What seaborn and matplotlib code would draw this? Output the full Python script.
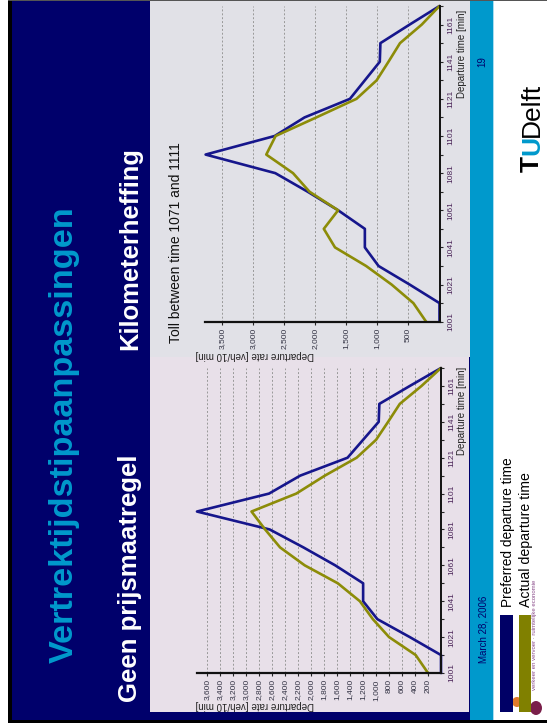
import matplotlib
matplotlib.use("Agg")
import matplotlib.pyplot as plt
from matplotlib.patches import Rectangle, Ellipse
from matplotlib.ticker import FixedLocator, FuncFormatter
import pandas as pd
import seaborn as sns

# ---------------------------------------------------------------- data
departure_times = [1001, 1011, 1021, 1031, 1041, 1051, 1061, 1071, 1081,
                   1091, 1101, 1111, 1121, 1131, 1141, 1151, 1161, 1171]
preferred = [0, 0, 480, 980, 1200, 1200, 1630, 2120, 2640,
             3760, 2650, 2170, 1440, 1200, 960, 950, 480, 0]
actual_no_toll = [200, 390, 800, 1050, 1250, 1590, 2100, 2480, 2710,
                  2920, 2230, 1790, 1300, 1000, 815, 635, 300, 0]
actual_toll = [215, 420, 770, 1180, 1680, 1860, 1630, 2090, 2355,
               2785, 2635, 1980, 1335, 1010, 820, 635, 285, 0]
series_names = ["Preferred departure time", "Actual departure time"]
time_ticks = [1001, 1021, 1041, 1061, 1081, 1101, 1121, 1141, 1161]
rate_ticks_no_toll = [200, 400, 600, 800, 1000, 1200, 1400, 1600, 1800,
                      2000, 2200, 2400, 2600, 2800, 3000, 3200, 3400, 3600]
rate_ticks_toll = [500, 1000, 1500, 2000, 2500, 3000, 3500]

W, H = 547, 728
NAVY = "#00006b"
CYAN = "#0099cc"
LINE_BLUE = "#16168c"
LINE_OLIVE = "#8c8c08"
NARROW = ["Liberation Sans Narrow", "Liberation Sans", "DejaVu Sans"]
SANS = ["Liberation Sans", "DejaVu Sans"]

sns.set_style("white")
plt.rcParams["font.family"] = SANS

fig = plt.figure(figsize=(W / 100, H / 100), dpi=100)
fig.patch.set_facecolor("white")


def box(x0, y0, x1, y1, color, z=-5):
    fig.add_artist(Rectangle((x0 / W, 1 - y1 / H), (x1 - x0) / W, (y1 - y0) / H,
                             transform=fig.transFigure, facecolor=color,
                             edgecolor="none", zorder=z))


def label(x, y, s, rot=90, ha="left", va="baseline", **kw):
    return fig.text(x / W, 1 - y / H, s, rotation=rot, rotation_mode="anchor",
                    ha=ha, va=va, **kw)


# slide frame (the slide is laid out sideways)
box(0, 0, W, H, "white")
box(8, 0, 12, 723, "black")
box(8, 720, W, 723, "black")
box(12, 1, 470, 720, NAVY)
box(150, 1, 470, 357, "#e1e1e7")
box(150, 357, 469, 712, "#e8e0e9")
box(470, 1, 493, 720, CYAN)
box(493, 1, 494, 720, "#a8dcef")
box(8, 0, W, 1, "#555555")


def make_axes(x0, y0, x1, y1, rate_max, actual, rate_ticks):
    ax = fig.add_axes([x0 / W, 1 - y1 / H, (x1 - x0) / W, (y1 - y0) / H])
    ax.set_facecolor("none")
    df = pd.DataFrame({
        "time": departure_times * 2,
        "rate": preferred + actual,
        "series": [series_names[0]] * len(departure_times)
                  + [series_names[1]] * len(departure_times),
    })
    sns.lineplot(data=df, x="rate", y="time", hue="series", orient="y",
                 palette=[LINE_BLUE, LINE_OLIVE], linewidth=1.9,
                 errorbar=None, legend=False, clip_on=False, ax=ax)
    ax.set_xlim(rate_max, 0)
    ax.set_ylim(departure_times[0], departure_times[-1])
    ax.set_xlabel("")
    ax.set_ylabel("")
    for side in ("top", "left"):
        ax.spines[side].set_visible(False)
    ax.spines["bottom"].set_linewidth(1.6)
    ax.spines["right"].set_linewidth(1.4)
    ax.spines["bottom"].set_color("#111111")
    ax.spines["right"].set_color("#111111")
    ax.xaxis.set_major_locator(FixedLocator(rate_ticks))
    ax.xaxis.set_major_formatter(FuncFormatter(lambda v, p: f"{int(v):,}"))
    ax.yaxis.tick_right()
    ax.yaxis.set_major_locator(FixedLocator(time_ticks))
    ax.yaxis.set_minor_locator(FixedLocator(departure_times))
    ax.tick_params(axis="x", which="major", bottom=True, direction="out",
                   length=2.5, width=0.8, pad=2, labelsize=6,
                   labelrotation=90, labelcolor="#333344")
    ax.tick_params(axis="y", which="both", right=True, left=False,
                   direction="out", length=2.5, width=0.8, pad=3,
                   labelsize=6, labelcolor="#4a2458")
    for t in ax.get_yticklabels():
        t.set_rotation(90)
        t.set_va("center")
        t.set_family(NARROW)
    for t in ax.get_xticklabels():
        t.set_family(NARROW)
    ax.grid(axis="x", color="#999999", linestyle=(0, (2, 2)), linewidth=0.7)
    ax.grid(axis="y", visible=False)
    ax.set_axisbelow(True)
    return ax


make_axes(205, 6, 439.5, 321.7, 3770, actual_toll, rate_ticks_toll)
make_axes(197, 368, 441, 673, 3760, actual_no_toll, rate_ticks_no_toll)

# axis titles
for y_end in (10, 367):
    label(465, y_end, "Departure time [min]", ha="right", fontsize=7,
          color="#222222", family=NARROW)
for y_base in (352, 702):
    label(195, y_base, "Departure rate [veh/10 min]", rot=180, ha="right",
          fontsize=7, color="#222222", family=NARROW)

# headings
fits = []
fits.append((label(73, 663, "Vertrektijdstipaanpassingen", fontsize=24,
                   fontweight="bold", color=CYAN, family=NARROW), 458))
fits.append((label(137, 702, "Geen prijsmaatregel", fontsize=14,
                   fontweight="bold", color="white", family=NARROW), 247))
fits.append((label(137, 350, "Kilometerheffing", fontsize=14,
                   fontweight="bold", color="white", family=NARROW), 203))
fits.append((label(180, 343, "Toll between time 1071 and 1111", fontsize=11,
                   color="#111111"), 203))

# legend
box(500, 615, 513, 712, "#000066", z=3)
box(519, 615, 531, 712, "#808000", z=3)
fits.append((label(512, 607, series_names[0], fontsize=10, color="black"), 152))
fits.append((label(530, 607, series_names[1], fontsize=10, color="black"), 135))

# footer
label(486, 663, "March 28, 2006", fontsize=7, color=NAVY)
label(485, 67, "19", fontsize=7, color=NAVY)
label(539, 172, "T", fontsize=19, fontweight="bold", color="black")
label(539, 155, "U", fontsize=19, fontweight="bold", color=CYAN)
label(539, 137, "Delft", fontsize=19, color="black")
fig.add_artist(Ellipse((536 / W, 1 - 708 / H), 12 / W, 14 / H,
                       transform=fig.transFigure, facecolor="#7a1f4a",
                       edgecolor="none", zorder=2))
fig.add_artist(Ellipse((517 / W, 1 - 702 / H), 10 / W, 10 / H,
                       transform=fig.transFigure, facecolor="#e07a2a",
                       edgecolor="none", zorder=2))
label(536, 690, "verkeer en vervoer · ruimtelijke economie", fontsize=4.3,
      color="#8a4a8a")

# scale the headings so that each spans its panel length
fig.canvas.draw()
renderer = fig.canvas.get_renderer()
for _ in range(2):
    for t, length in fits:
        cur = t.get_window_extent(renderer).height
        t.set_fontsize(t.get_fontsize() * length / cur)

fig.savefig("out.png", dpi=100)
